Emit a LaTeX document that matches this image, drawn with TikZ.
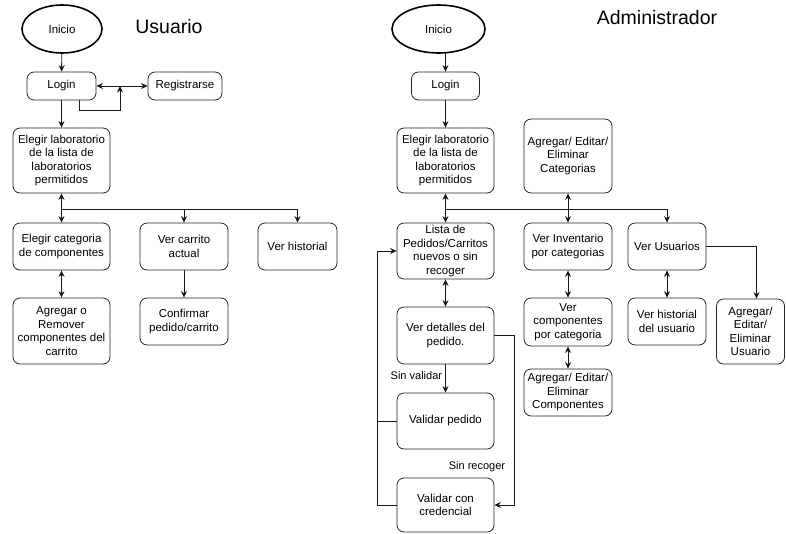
\documentclass[tikz,border=0pt]{standalone}
\usepackage{fontspec}
\setmainfont{Liberation Sans}
\usetikzlibrary{shapes.geometric,arrows.meta,calc}
\begin{document}
\begin{tikzpicture}[x=1pt,y=-1pt,
  every node/.style={font=\fontsize{11.5}{13.5}\selectfont, inner sep=0pt},
  box/.style={draw=black!85, line width=0.8pt, rounded corners=7pt, fill=white, align=center},
  startnode/.style={draw=black, line width=1.6pt, ellipse, fill=white},
  title/.style={font=\fontsize{19.5}{22}\selectfont},
  conn/.style={draw=black!90, line width=0.9pt},
  arr/.style={conn, -{Stealth[length=6.5pt,width=6pt]}},
  barr/.style={conn, {Stealth[length=6.5pt,width=6pt]}-{Stealth[length=6.5pt,width=6pt]}},
  lbl/.style={font=\fontsize{11}{13}\selectfont}
]
\useasboundingbox (0,0) rectangle (786,533);

% ---------- Usuario ----------
\node[startnode, minimum width=80pt, minimum height=48pt] (iniL) at (62,29) {Inicio};
\node[title] (tUsu) at (169,27) {Usuario};
\node[box, minimum width=69pt, minimum height=28pt] (loginL) at (61.5,86) {Login};
\node[box, minimum width=74pt, minimum height=28pt] (regL) at (185,86) {Registrarse};
\node[box, minimum width=97pt, minimum height=65pt] (elabL) at (61.5,160.5) {Elegir laboratorio\\de la lista de\\laboratorios\\permitidos};
\node[box, minimum width=97pt, minimum height=47pt] (ecatL) at (61.5,246.5) {Elegir categoria\\de componentes};
\node[box, minimum width=88pt, minimum height=47pt] (carL) at (184,246.5) {Ver carrito\\actual};
\node[box, minimum width=79pt, minimum height=47pt] (histL) at (297.5,246.5) {Ver historial};
\node[box, minimum width=97pt, minimum height=66pt] (agrL) at (61.5,331) {Agregar o\\Remover\\componentes del\\carrito};
\node[box, minimum width=88pt, minimum height=47pt] (confL) at (184,321.5) {Confirmar\\pedido/carrito};

\coordinate (jL) at (120,86);
\coordinate (busL) at (61.5,209);
\draw[arr] (iniL) -- (loginL);
\draw[barr] (loginL.east) -- (regL.west);
\draw[arr] ($(loginL.south west)!0.75!(loginL.south east)$) -- ++(0,10) -| (jL);
\draw[arr] (loginL) -- (elabL);
\draw[barr] (elabL) -- (ecatL);
\draw[arr] (busL) -| (carL.north);
\draw[arr] (busL) -| (histL.north);
\draw[barr] (ecatL) -- (agrL);
\draw[arr] (carL) -- (confL);

% ---------- Administrador ----------
\node[startnode, minimum width=93pt, minimum height=48pt] (iniR) at (438.5,29) {Inicio};
\node[title] (tAdm) at (657,18) {Administrador};
\node[box, minimum width=68pt, minimum height=28pt] (loginR) at (445.5,86) {Login};
\node[box, minimum width=97pt, minimum height=65pt] (elabR) at (445.5,160.5) {Elegir laboratorio\\de la lista de\\laboratorios\\permitidos};
\node[box, minimum width=88pt, minimum height=74pt] (catR) at (568,156) {Agregar/ Editar/\\Eliminar\\Categorias};
\node[box, minimum width=97pt, minimum height=56pt] (lista) at (445.5,251) {Lista de\\Pedidos/Carritos\\nuevos o sin\\recoger};
\node[box, minimum width=88pt, minimum height=47pt] (inv) at (568,246.5) {Ver Inventario\\por categorias};
\node[box, minimum width=78pt, minimum height=47pt] (verUsu) at (667,246.5) {Ver Usuarios};
\node[box, minimum width=97pt, minimum height=57pt] (det) at (445.5,335.5) {Ver detalles del\\pedido.};
\node[box, minimum width=88pt, minimum height=48pt] (vcomp) at (568,322) {Ver\\componentes\\por categoria};
\node[box, minimum width=78pt, minimum height=47pt] (histU) at (667,321.5) {Ver historial\\del usuario};
\node[box, minimum width=68pt, minimum height=65pt] (agrU) at (750.5,331.5) {Agregar/\\Editar/\\Eliminar\\Usuario};
\node[box, minimum width=88pt, minimum height=47pt] (compo) at (568,392.5) {Agregar/ Editar/\\Eliminar\\Componentes};
\node[box, minimum width=97pt, minimum height=56pt] (valp) at (445.5,421) {Validar pedido};
\node[box, minimum width=97pt, minimum height=54pt] (cred) at (445.5,505) {Validar con\\credencial};

\coordinate (busR) at (445.5,209);
\coordinate (iniRout) at (445.5,52.5);
\coordinate (loopX) at (377,0);
\coordinate (rightX) at (514,0);
\draw[arr] (iniRout) -- (loginR.north);
\draw[arr] (loginR) -- (elabR);
\draw[barr] (elabR) -- (lista);
\draw[arr] (busR) -| (verUsu.north);
\draw[barr] (catR) -- (inv);
\draw[barr] (lista) -- (det);
\draw[barr] (inv) -- (vcomp);
\draw[barr] (vcomp) -- (compo);
\draw[barr] (verUsu) -- (histU);
\draw[arr] (verUsu.east) -| ([xshift=6pt]agrU.north);
\draw[arr] (det) -- node[lbl, anchor=east, xshift=-3pt, pos=0.4] (sinval) {Sin validar} (valp);
\draw[conn] (valp.west) -- (valp.west -| loopX);
\draw[arr] (cred.west) -- (cred.west -| loopX) -- (lista.west -| loopX) -- (lista.west);
\draw[arr] (det.east) -- (det.east -| rightX) -- (cred.east -| rightX) -- (cred.east);
\node[lbl] (sinrec) at (477,467) {Sin recoger};
\end{tikzpicture}
\end{document}
